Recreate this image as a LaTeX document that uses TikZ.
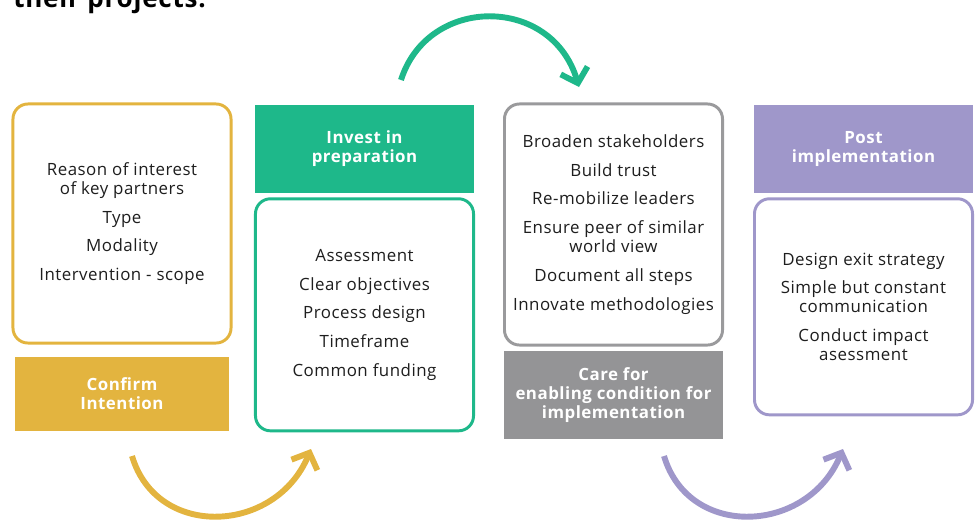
\documentclass[tikz,border=0pt]{standalone}
\usepackage{fontspec}
\setmainfont[LetterSpace=3]{Open Sans}
\usepackage{tikz}
\usetikzlibrary{arrows.meta, positioning}
\definecolor{myyellow}{RGB}{227,180,63}
\definecolor{mygreen}{RGB}{30,184,138}
\definecolor{mygrey}{RGB}{148,148,150}
\definecolor{mygreyline}{RGB}{154,154,156}
\definecolor{mypurple}{RGB}{159,151,202}
\definecolor{mytext}{RGB}{30,30,30}
\newcommand{\itemfont}{\fontsize{12}{13.5}\selectfont}
\newcommand{\headfont}{\bfseries\fontsize{12}{13.5}\selectfont}
\tikzset{
  itembox/.style={rectangle, draw=#1, fill=white, line width=2.1pt,
    rounded corners=0.375cm, minimum width=5.45cm, align=center,
    font=\itemfont, text=mytext, inner sep=0pt},
  headbox/.style={rectangle, fill=#1, minimum width=5.45cm,
    minimum height=2.2cm, align=center, font=\headfont, text=white},
  looparrow/.style={line width=4.2pt, color=#1,
    -{Straight Barb[length=0.33cm, width=0.7cm]}}
}

\begin{document}
\begin{tikzpicture}[x=0.025cm, y=-0.025cm]
  \useasboundingbox (0,0) rectangle (980,521);
  \node[anchor=base west, inner sep=0pt, font=\bfseries\fontsize{18.5}{22}\selectfont, text=black]
    (titletext) at (13,7) {their projects.};

  % confirm intention
  \node[itembox=myyellow, minimum height=5.975cm] (confbox) at (122,223.5)
    {Reason of interest\\of key partners\\[7pt] Type\\[7pt] Modality\\[7pt] Intervention - scope};
  \node[headbox=myyellow, minimum width=5.35cm, minimum height=1.85cm, below=0.3cm of confbox]
    (confhead) {Confirm\\Intention};

  % invest in preparation
  \node[headbox=mygreen] (prephead) at (364.5,149) {Invest in\\preparation};
  \node[itembox=mygreen, minimum height=5.8cm, below=0.1cm of prephead] (prepbox)
    {Assessment\\[7pt] Clear objectives\\[7pt] Process design\\[7pt] Timeframe\\[7pt] Common funding};

  % enabling conditions
  \node[itembox=mygreyline, minimum height=6.025cm] (carebox) at (613.5,224.5)
    {Broaden stakeholders\\[7pt] Build trust\\[7pt] Re-mobilize leaders\\[7pt] Ensure peer of similar\\world view\\[7pt]
     Document all steps\\[7pt] Innovate methodologies};
  \node[headbox=mygrey, below=0.1cm of carebox] (carehead)
    {Care for\\enabling condition for\\implementation};

  % post implementation
  \node[headbox=mypurple] (posthead) at (863.5,149) {Post\\implementation};
  \node[itembox=mypurple, minimum height=5.4cm, below=0.1cm of posthead] (postbox)
    {Design exit strategy\\[7pt] Simple but constant\\communication\\[7pt] Conduct impact\\asessment};

  % arrows
  \coordinate (ya) at (132,456);
  \coordinate (yb) at (311,449);
  \coordinate (ga) at (401,80);
  \coordinate (gb) at (579,87);
  \coordinate (pa) at (664,456);
  \coordinate (pb) at (843,449);
  \draw[looparrow=myyellow] (ya) .. controls (157,540) and (276,534) .. (yb);
  \draw[looparrow=mygreen] (ga) .. controls (428,-5) and (552,-5) .. (gb);
  \draw[looparrow=mypurple] (pa) .. controls (689,540) and (808,534) .. (pb);
\end{tikzpicture}
\end{document}
